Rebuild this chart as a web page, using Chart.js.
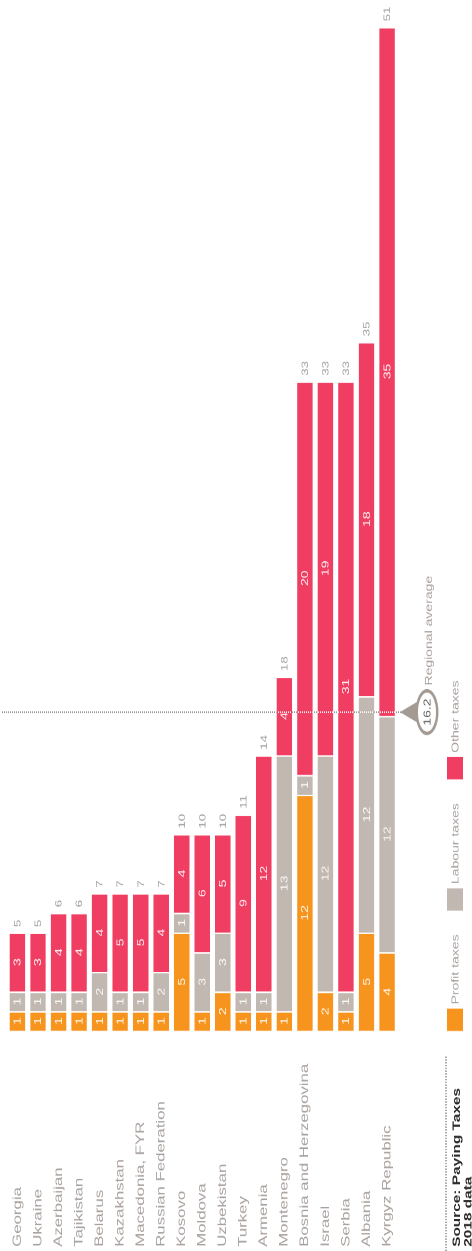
<!DOCTYPE html>
<html>
<head>
<meta charset="utf-8">
<script src="https://cdn.jsdelivr.net/npm/chart.js@4.4.1/dist/chart.umd.min.js"></script>
<style>
    html, body { margin: 0; padding: 0; background: #fff; overflow: hidden; }
    /* chart is laid out as a horizontal bar chart, then turned a quarter and stretched like the print */
    #wrap {
        position: absolute; left: 0; top: 0;
        width: 894px; height: 472px;
        transform-origin: 0 0;
        transform: translate(0px, 1251px) rotate(-90deg) scaleX(1.3993);
    }
</style>
</head>
<body>
<div id="wrap"><canvas id="chart" width="894" height="472"></canvas></div>
<script>
// Number of tax payments per year, Paying Taxes 2018
const countries = ['Georgia', 'Ukraine', 'Azerbaijan', 'Tajikistan', 'Belarus', 'Kazakhstan',
    'Macedonia, FYR', 'Russian Federation', 'Kosovo', 'Moldova', 'Uzbekistan', 'Turkey',
    'Armenia', 'Montenegro', 'Bosnia and Herzegovina', 'Israel', 'Serbia', 'Albania', 'Kyrgyz Republic'];
const profitTaxes = [1, 1, 1, 1, 1, 1, 1, 1, 5, 1, 2, 1, 1, 1, 12, 2, 1, 5, 4];
const labourTaxes = [1, 1, 1, 1, 2, 1, 1, 2, 1, 3, 3, 1, 1, 13, 1, 12, 1, 12, 12];
const otherTaxes = [3, 3, 4, 4, 4, 5, 5, 4, 4, 6, 5, 9, 12, 4, 20, 19, 31, 18, 35];
const seriesNames = ['Profit taxes', 'Labour taxes', 'Other taxes'];
const seriesColors = ['#f7941d', '#c1b8b1', '#f03e62'];
const regionalAverage = 16.2;
const axisMax = 51;
const sourceLines = ['Source: Paying Taxes', '2018 data'];

const FONT = '"Liberation Sans", Arial, Helvetica, sans-serif';
const GREY_TEXT = '#a8a19d';

function dottedLine(ctx, x1, y1, x2, y2) {
    ctx.beginPath();
    ctx.moveTo(x1, y1);
    ctx.lineTo(x2, y2);
    ctx.stroke();
}

const annotate = {
    id: 'annotate',
    afterDatasetsDraw(chart) {
        const ctx = chart.ctx;
        const avgX = chart.scales.x.getPixelForValue(regionalAverage);

        // regional average: white dots on the bars, grey dots on the paper
        ctx.save();
        ctx.lineWidth = 1.3;
        ctx.setLineDash([1, 1]);
        ctx.globalCompositeOperation = 'source-atop';
        ctx.strokeStyle = 'rgba(255,255,255,0.9)';
        dottedLine(ctx, avgX, 2, avgX, 401);
        ctx.globalCompositeOperation = 'destination-over';
        ctx.strokeStyle = '#9c9797';
        dottedLine(ctx, avgX, 2, avgX, 401);
        ctx.restore();

        // values inside each segment
        ctx.save();
        ctx.textAlign = 'center';
        ctx.textBaseline = 'middle';
        ctx.font = '10px ' + FONT;
        ctx.fillStyle = 'rgba(255,255,255,0.9)';
        chart.data.datasets.forEach((ds, d) => {
            chart.getDatasetMeta(d).data.forEach((bar, i) => {
                ctx.fillText(String(ds.data[i]), (bar.x + bar.base) / 2, bar.y + 0.5);
            });
        });

        // totals at the end of the bars
        ctx.textAlign = 'left';
        ctx.font = '9.5px ' + FONT;
        ctx.fillStyle = '#a3a0a4';
        const last = chart.getDatasetMeta(chart.data.datasets.length - 1).data;
        last.forEach((bar, i) => {
            const total = profitTaxes[i] + labourTaxes[i] + otherTaxes[i];
            ctx.fillText(String(total), bar.x + 4, bar.y + 0.5);
        });
        ctx.restore();
    },
    afterDraw(chart) {
        const ctx = chart.ctx;
        const avgX = chart.scales.x.getPixelForValue(regionalAverage);
        const left = chart.chartArea.left;

        // average pin
        ctx.save();
        const pinGrey = '#a39a93';
        const cy = 427;
        ctx.fillStyle = pinGrey;
        ctx.beginPath();
        ctx.moveTo(avgX, 400);
        ctx.lineTo(avgX - 9, 421);
        ctx.lineTo(avgX + 9, 421);
        ctx.closePath();
        ctx.fill();
        ctx.beginPath();
        ctx.ellipse(avgX, cy, 16.5, 11.5, 0, 0, Math.PI * 2);
        ctx.fill();
        ctx.fillStyle = '#fff';
        ctx.beginPath();
        ctx.ellipse(avgX, cy, 14, 9, 0, 0, Math.PI * 2);
        ctx.fill();
        ctx.fillStyle = '#5d5856';
        ctx.font = '10px ' + FONT;
        ctx.textAlign = 'center';
        ctx.textBaseline = 'middle';
        ctx.fillText(String(regionalAverage), avgX, cy + 0.5);
        ctx.fillStyle = GREY_TEXT;
        ctx.textAlign = 'left';
        ctx.fillText('Regional average', avgX + 19, 429);

        // legend
        let x = left;
        ctx.font = '10px ' + FONT;
        seriesNames.forEach((name, i) => {
            ctx.fillStyle = seriesColors[i];
            ctx.fillRect(x, 447, 16, 16);
            ctx.fillStyle = GREY_TEXT;
            ctx.fillText(name, x + 19, 455.5);
            x += 19 + ctx.measureText(name).width + 17;
        });

        // source note
        ctx.strokeStyle = '#555';
        ctx.lineWidth = 1;
        ctx.setLineDash([1, 1]);
        dottedLine(ctx, 0, 446, 140, 446);
        ctx.setLineDash([]);
        ctx.fillStyle = '#2a2a2a';
        ctx.font = 'bold 11px ' + FONT;
        ctx.textBaseline = 'alphabetic';
        ctx.fillText(sourceLines[0], 3, 460);
        ctx.fillText(sourceLines[1], 3, 471.5);
        ctx.restore();
    }
};

const datasets = [profitTaxes, labourTaxes, otherTaxes].map((values, i) => ({
    label: seriesNames[i],
    data: values,
    backgroundColor: seriesColors[i],
    borderColor: '#ffffff',
    borderWidth: { right: 1, left: 0, top: 0, bottom: 0 },
    borderSkipped: false,
    barPercentage: 0.76,
    categoryPercentage: 1
}));

new Chart(document.getElementById('chart'), {
    type: 'bar',
    data: { labels: countries, datasets: datasets },
    options: {
        indexAxis: 'y',
        responsive: false,
        devicePixelRatio: 2,
        animation: false,
        layout: { padding: { left: 3, right: 19.3, top: 6.7, bottom: 74.7 } },
        plugins: {
            legend: { display: false },
            tooltip: { enabled: false }
        },
        scales: {
            x: { display: false, stacked: true, min: 0, max: axisMax },
            y: {
                stacked: true,
                grid: { display: false },
                border: { display: false },
                ticks: {
                    color: GREY_TEXT,
                    font: { family: FONT, size: 12 },
                    crossAlign: 'far',
                    padding: 0,
                    autoSkip: false
                },
                afterFit(scale) { scale.width = 154.2; }
            }
        }
    },
    plugins: [annotate]
});
</script>
</body>
</html>
